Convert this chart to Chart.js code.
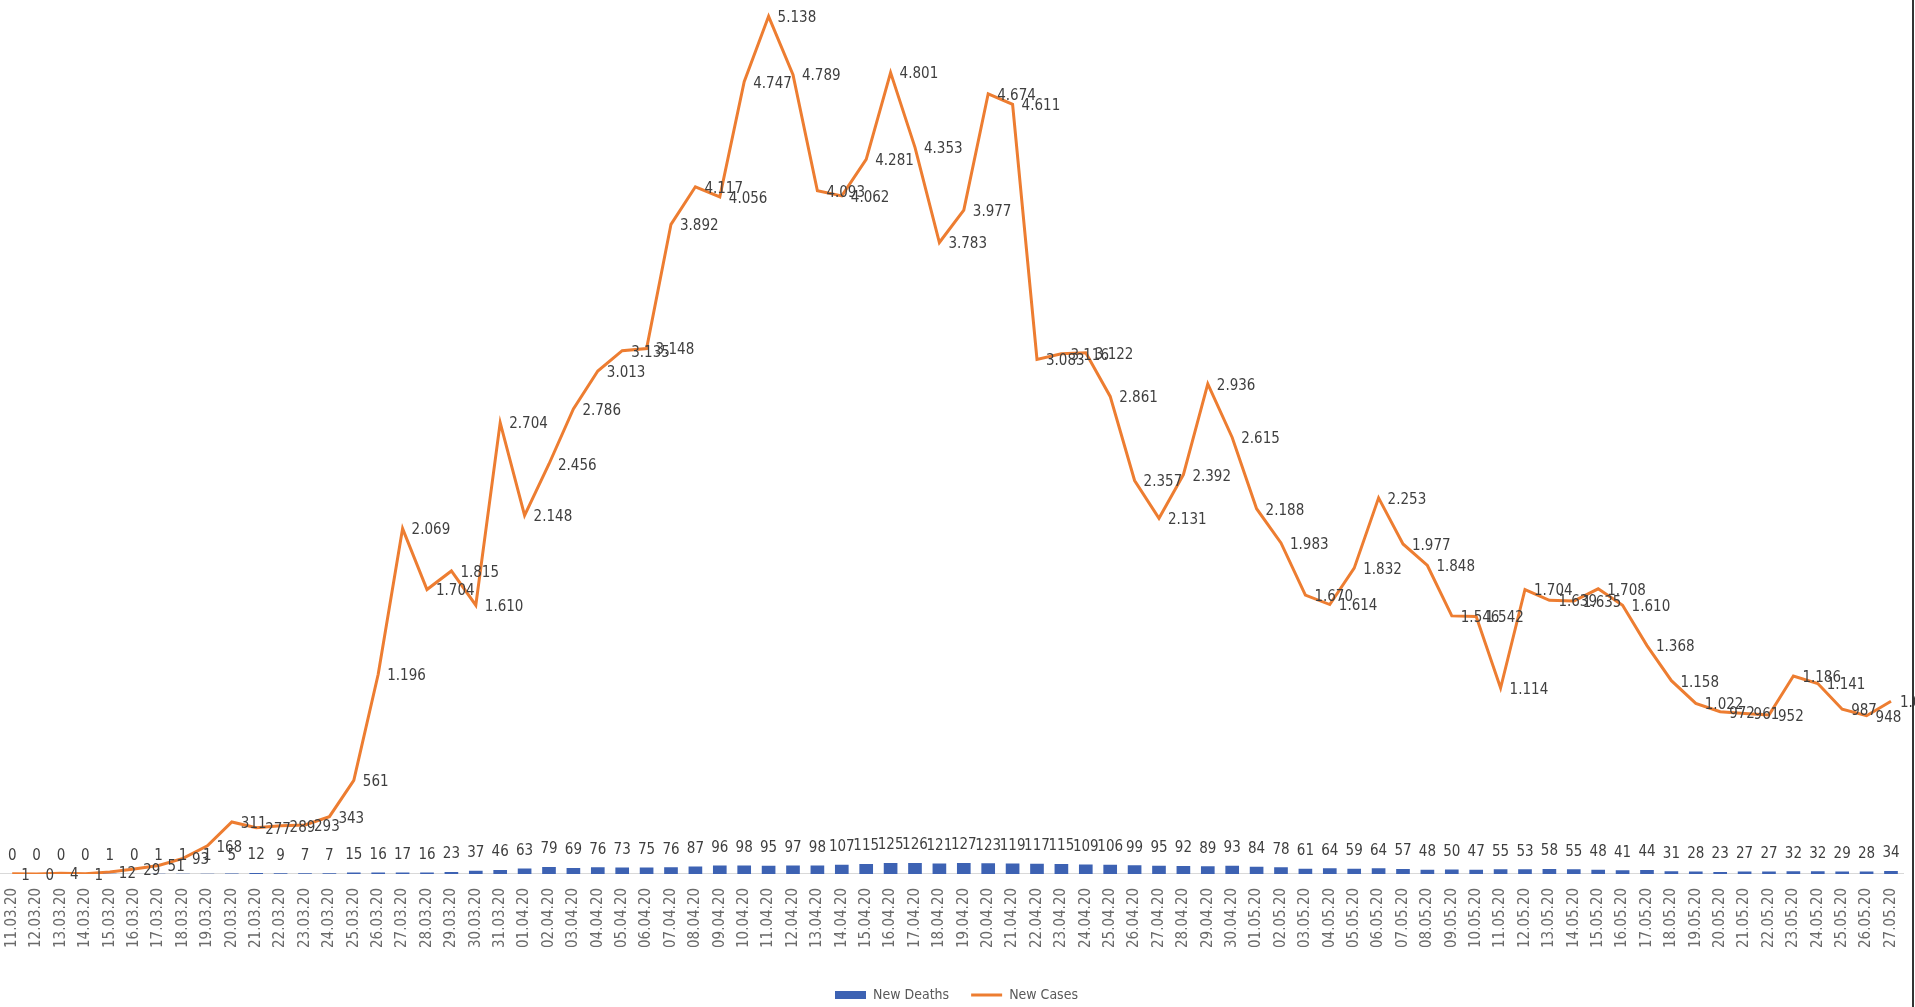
<!DOCTYPE html>
<html>
<head>
<meta charset="utf-8">
<script src="https://cdn.jsdelivr.net/npm/chart.js@4.4.1/dist/chart.umd.min.js"></script>
<style>
  html, body { margin: 0; padding: 0; background: #fff; }
  #wrap { position: relative; width: 1915px; height: 1007px; overflow: hidden; }
  #frame { position: absolute; top: 0; right: 1px; width: 2px; height: 1007px; background: #333; }
</style>
</head>
<body>
<div id="wrap">
  <canvas id="covidChart"></canvas>
  <div id="frame"></div>
</div>
<script>
const dates = [
  '11.03.20','12.03.20','13.03.20','14.03.20','15.03.20','16.03.20','17.03.20','18.03.20','19.03.20','20.03.20',
  '21.03.20','22.03.20','23.03.20','24.03.20','25.03.20','26.03.20','27.03.20','28.03.20','29.03.20','30.03.20',
  '31.03.20','01.04.20','02.04.20','03.04.20','04.04.20','05.04.20','06.04.20','07.04.20','08.04.20','09.04.20',
  '10.04.20','11.04.20','12.04.20','13.04.20','14.04.20','15.04.20','16.04.20','17.04.20','18.04.20','19.04.20',
  '20.04.20','21.04.20','22.04.20','23.04.20','24.04.20','25.04.20','26.04.20','27.04.20','28.04.20','29.04.20',
  '30.04.20','01.05.20','02.05.20','03.05.20','04.05.20','05.05.20','06.05.20','07.05.20','08.05.20','09.05.20',
  '10.05.20','11.05.20','12.05.20','13.05.20','14.05.20','15.05.20','16.05.20','17.05.20','18.05.20','19.05.20',
  '20.05.20','21.05.20','22.05.20','23.05.20','24.05.20','25.05.20','26.05.20','27.05.20'
];

const newCases = [
  1, 0, 4, 1, 12, 29, 51, 93, 168, 311, 277, 289, 293, 343, 561, 1196, 2069, 1704, 1815, 1610, 2704,
  2148, 2456, 2786, 3013, 3135, 3148, 3892, 4117, 4056, 4747, 5138, 4789, 4093, 4062, 4281,
  4801, 4353, 3783, 3977, 4674, 4611, 3083, 3116, 3122, 2861, 2357, 2131, 2392, 2936, 2615,
  2188, 1983, 1670, 1614, 1832, 2253, 1977, 1848, 1546, 1542, 1114, 1704, 1639, 1635, 1708,
  1610, 1368, 1158, 1022, 972, 961, 952, 1186, 1141, 987, 948, 1035
];

const newDeaths = [
  0, 0, 0, 0, 1, 0, 1, 1, 1, 5, 12, 9, 7, 7, 15, 16, 17, 16, 23, 37, 46,
  63, 79, 69, 76, 73, 75, 76, 87, 96, 98, 95, 97, 98, 107, 115,
  125, 126, 121, 127, 123, 119, 117, 115, 109, 106, 99, 95, 92, 89, 93,
  84, 78, 61, 64, 59, 64, 57, 48, 50, 47, 55, 53, 58, 55, 48,
  41, 44, 31, 28, 23, 27, 27, 32, 32, 29, 28, 34
];

const labelFont = "'Liberation Sans Narrow', 'DejaVu Sans Condensed', 'Liberation Sans', sans-serif";
const labelColor = '#3f3f3f';

function formatNum(v) {
  return String(v).replace(/\B(?=(\d{3})+(?!\d))/g, '.');
}

// value labels: cases to the right of each point, deaths above each bar
const valueLabels = {
  id: 'valueLabels',
  afterDatasetsDraw(chart) {
    const ctx = chart.ctx;
    ctx.save();
    ctx.fillStyle = labelColor;
    ctx.font = '15px ' + labelFont;

    const barMeta = chart.getDatasetMeta(0);
    ctx.textAlign = 'center';
    ctx.textBaseline = 'bottom';
    barMeta.data.forEach((bar, i) => {
      ctx.fillText(formatNum(newDeaths[i]), bar.x, bar.y - 10);
    });

    const lineMeta = chart.getDatasetMeta(1);
    ctx.textAlign = 'left';
    ctx.textBaseline = 'middle';
    lineMeta.data.forEach((pt, i) => {
      ctx.fillText(formatNum(newCases[i]), pt.x + 9, pt.y + 2);
    });
    ctx.restore();
  }
};

const ctx = document.getElementById('covidChart').getContext('2d');
const covidChart = new Chart(ctx, {
  type: 'bar',
  data: {
    labels: dates,
    datasets: [
      {
        type: 'bar',
        label: 'New Deaths',
        data: newDeaths,
        backgroundColor: '#3D62B3',
        borderWidth: 0,
        barPercentage: 0.56,
        categoryPercentage: 1,
        yAxisID: 'y1',
        pointStyle: 'rect'
      },
      {
        type: 'line',
        label: 'New Cases',
        data: newCases,
        borderColor: '#ED7D31',
        backgroundColor: '#ED7D31',
        borderWidth: 3,
        pointRadius: 0,
        tension: 0,
        yAxisID: 'y',
        pointStyle: 'line'
      }
    ]
  },
  options: {
    responsive: true,
    maintainAspectRatio: false,
    animation: false,
    layout: { padding: { top: 6, left: 0, right: 2, bottom: -5 } },
    plugins: {
      tooltip: { enabled: false },
      legend: {
        position: 'bottom',
        labels: {
          usePointStyle: true,
          pointStyleWidth: 31,
          boxHeight: 8,
          padding: 22,
          color: '#595959',
          font: { family: labelFont, size: 14 }
        }
      }
    },
    scales: {
      x: {
        offset: true,
        grid: { display: false },
        border: { display: true, color: '#d9d9d9' },
        ticks: {
          autoSkip: false,
          minRotation: 90,
          maxRotation: 90,
          padding: 6,
          color: '#6a6a6a',
          font: { family: labelFont, size: 15 }
        },
        afterFit(scale) {
          scale.height += 12;
        }
      },
      y: {
        display: false,
        min: 0,
        max: 5200
      },
      y1: {
        display: false,
        min: 0,
        max: 10000
      }
    }
  },
  plugins: [valueLabels]
});
</script>
</body>
</html>
